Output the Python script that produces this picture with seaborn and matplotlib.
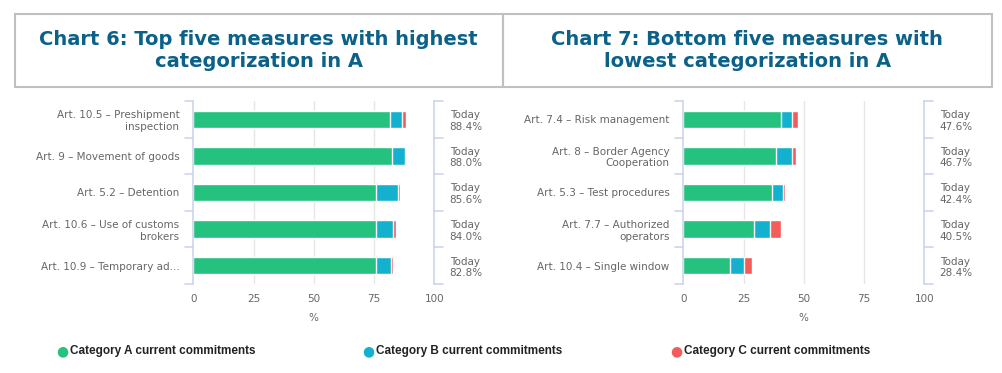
import numpy as np
import pandas as pd
import seaborn as sns
import matplotlib.pyplot as plt
from matplotlib.patches import Rectangle

# Datos
medidas_top = ["Art. 10.5 – Preshipment\ninspection", "Art. 9 – Movement of goods",
               "Art. 5.2 – Detention", "Art. 10.6 – Use of customs\nbrokers",
               "Art. 10.9 – Temporary ad..."]
top_a = [81.8, 82.4, 76.0, 76.0, 75.8]
top_b = [4.8, 5.6, 8.8, 7.0, 6.2]
top_c = [1.8, 0.0, 0.8, 1.0, 0.8]
top_total = [88.4, 88.0, 85.6, 84.0, 82.8]

medidas_bottom = ["Art. 7.4 – Risk management", "Art. 8 – Border Agency\nCooperation",
                  "Art. 5.3 – Test procedures", "Art. 7.7 – Authorized\noperators",
                  "Art. 10.4 – Single window"]
bottom_a = [40.6, 38.3, 36.9, 29.3, 19.5]
bottom_b = [4.5, 6.9, 4.6, 6.6, 5.6]
bottom_c = [2.5, 1.5, 0.9, 4.6, 3.3]
bottom_total = [47.6, 46.7, 42.4, 40.5, 28.4]

titulos = ["Chart 6: Top five measures with highest\ncategorization in A",
           "Chart 7: Bottom five measures with\nlowest categorization in A"]
series = ["Category A current commitments", "Category B current commitments",
          "Category C current commitments"]
colores = ["#25c27f", "#13b1cd", "#f45b5b"]
ticks_x = [0, 25, 50, 75, 100]

sns.set_theme(style="white")
plt.rcParams['font.family'] = ['DejaVu Sans']

fig = plt.figure(figsize=(10.02, 3.73), dpi=100)

eje_color = "#ccd6eb"
texto_color = "#666666"


def grafico(ax, medidas, a, b, c, total):
    df = pd.DataFrame({"medida": medidas, "A": a, "B": b, "C": c})
    df["AB"] = df["A"] + df["B"]
    df["ABC"] = df["AB"] + df["C"]
    # barras apiladas: de la suma total hacia atrás
    for col, color in zip(["ABC", "AB", "A"], colores[::-1]):
        sns.barplot(data=df, y="medida", x=col, color=color, orient="h", width=0.48,
                    edgecolor="white", linewidth=1, ax=ax, saturation=1)
    ax.set_xlim(0, 100)
    ax.set_ylim(4.5, -0.5)
    ax.set_xticks(ticks_x)
    ax.set_xticklabels([str(t) for t in ticks_x], color=texto_color, fontsize=7.5)
    ax.set_xlabel("%", color=texto_color, fontsize=7.5, labelpad=7)
    ax.set_ylabel("")
    ax.tick_params(axis="y", length=0, pad=10, labelsize=7.5, labelcolor=texto_color)
    ax.tick_params(axis="x", length=0, pad=7)
    for lab in ax.get_yticklabels():
        lab.set_horizontalalignment("right")
        lab.set_multialignment("right")
    for t in ticks_x[1:]:
        ax.axvline(t, color="#e6e6e6", linewidth=1, zorder=0)
    for s in ["top", "bottom", "right"]:
        ax.spines[s].set_visible(False)
    ax.spines["left"].set_color(eje_color)
    ax.spines["left"].set_linewidth(1.2)
    # marcas en los límites de categoría
    for yb in np.arange(-0.5, 5, 1):
        ax.plot([-0.035, 0], [yb, yb], transform=ax.get_yaxis_transform(),
                color=eje_color, linewidth=1.2, clip_on=False)
    # eje secundario con etiquetas "Today"
    ax2 = ax.twinx()
    ax2.set_ylim(ax.get_ylim())
    ax2.set_yticks(range(len(total)))
    ax2.set_yticklabels(["Today\n%.1f%%" % v for v in total], fontsize=7.5,
                        color=texto_color)
    ax2.tick_params(axis="y", length=0, pad=11)
    for lab in ax2.get_yticklabels():
        lab.set_multialignment("left")
    for s in ["top", "bottom", "left"]:
        ax2.spines[s].set_visible(False)
    ax2.spines["right"].set_color(eje_color)
    ax2.spines["right"].set_linewidth(1.2)
    for yb in np.arange(-0.5, 5, 1):
        ax2.plot([1, 1.035], [yb, yb], transform=ax2.get_yaxis_transform(),
                 color=eje_color, linewidth=1.2, clip_on=False)
    ax2.grid(False)


ax_izq = fig.add_axes([193.3 / 1002, 1 - 284 / 373, 241 / 1002, 183 / 373])
grafico(ax_izq, medidas_top, top_a, top_b, top_c, top_total)
ax_der = fig.add_axes([683.3 / 1002, 1 - 284 / 373, 241 / 1002, 183 / 373])
grafico(ax_der, medidas_bottom, bottom_a, bottom_b, bottom_c, bottom_total)

# cajas de título
for x0, x1, titulo in [(15, 502.5, titulos[0]), (502.5, 992, titulos[1])]:
    fig.patches.append(Rectangle((x0 / 1002, 1 - 87 / 373), (x1 - x0) / 1002, 73 / 373,
                                 transform=fig.transFigure, fill=False,
                                 edgecolor="#c0c0c0", linewidth=1.5))
    fig.text((x0 + x1) / 2 / 1002, 1 - 50.5 / 373, titulo, ha="center", va="center",
             fontsize=14, fontweight="bold", color="#0b6187", linespacing=1.22)

# leyenda
for xm, nombre, color in zip([62, 368, 676], series, colores):
    fig.text(xm / 1002, 1 - 351 / 373, "●", color=color, fontsize=10,
             ha="center", va="center")
    fig.text((xm + 8) / 1002, 1 - 351 / 373, nombre, color="#222222", fontsize=8.5,
             fontweight="bold", ha="left", va="center",
             family=["Liberation Sans", "DejaVu Sans"])

fig.savefig("out.png", dpi=100)
